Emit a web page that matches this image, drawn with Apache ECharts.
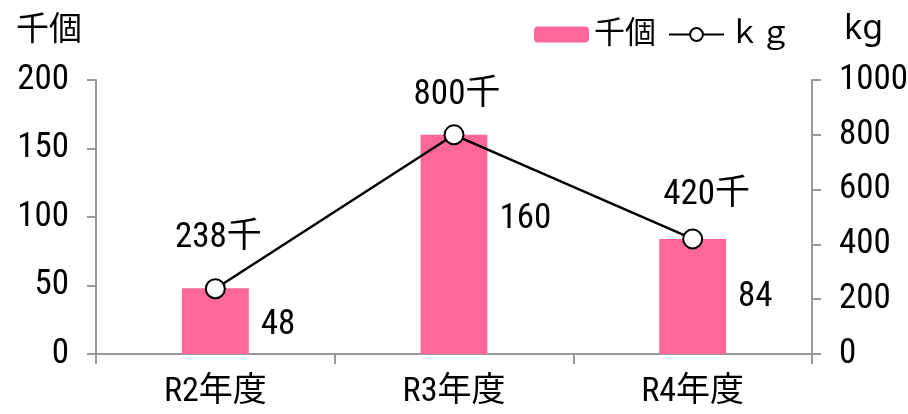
<!DOCTYPE html>
<html>
<head>
<meta charset="utf-8">
<script src="https://cdn.jsdelivr.net/npm/echarts@6/dist/echarts.min.js"></script>
<style>
  html, body { margin: 0; padding: 0; background: #fff; }
  #chart { width: 908px; height: 414px; }
</style>
</head>
<body>
<div id="chart"></div>
<script>
// data
const categories = ['R2年度', 'R3年度', 'R4年度'];
const thousandPieces = [48, 160, 84];   // 千個 (left axis)
const kgValues = [238, 800, 420];       // kg (right axis)
const leftTicks = { min: 0, max: 200, interval: 50 };
const rightTicks = { min: 0, max: 1000, interval: 200 };

const FONT = "'Roboto Condensed', 'Noto Sans CJK JP', sans-serif";
const NAME_FONT = "'Noto Sans', 'Noto Sans CJK JP', sans-serif";
const AXIS_GREY = '#999999';
const NUM_SIZE = 35;

// small label nudges so labels sit where the reference has them
const barLabelOffsets = [[0, 4], [0, -25], [0, 1]];
const lineLabelOffsets = [[3, -7], [3, 4], [14, 0]];

const chart = echarts.init(document.getElementById('chart'), null, { renderer: 'canvas' });

const yAxisCommon = {
  type: 'value',
  splitLine: { show: false },
  axisLine: { show: true, lineStyle: { color: AXIS_GREY, width: 2 } },
  axisTick: { show: true, length: 9, lineStyle: { color: AXIS_GREY, width: 2 } },
  axisLabel: { color: '#000', fontFamily: FONT, fontSize: NUM_SIZE, margin: 27, formatter: v => String(v) },
  nameLocation: 'end',
  nameTextStyle: { color: '#000', fontFamily: NAME_FONT, fontSize: 32 }
};

const option = {
  animation: false,
  textStyle: { fontFamily: FONT },
  grid: { left: 96, right: 96, top: 80, bottom: 60, outerBoundsMode: 'none' },
  legend: {
    top: 14,
    right: 112,
    itemWidth: 55,
    itemHeight: 16,
    itemGap: 12,
    textStyle: { color: '#000', fontFamily: NAME_FONT, fontSize: 31 },
    data: ['千個', 'ｋｇ']
  },
  xAxis: {
    type: 'category',
    data: categories,
    axisLine: { lineStyle: { color: AXIS_GREY, width: 2 } },
    axisTick: { show: true, length: 10, alignWithLabel: false, lineStyle: { color: AXIS_GREY, width: 2 } },
    axisLabel: { color: '#000', fontFamily: FONT, fontSize: 34, margin: 22 }
  },
  yAxis: [
    Object.assign({}, yAxisCommon, {
      name: '千個',
      nameGap: 33,
      nameTextStyle: Object.assign({}, yAxisCommon.nameTextStyle, { fontSize: 33, align: 'right', padding: [0, 14, 0, 0] }),
      min: leftTicks.min, max: leftTicks.max, interval: leftTicks.interval
    }),
    Object.assign({}, yAxisCommon, {
      name: 'kg',
      nameGap: 34,
      nameTextStyle: Object.assign({}, yAxisCommon.nameTextStyle, { fontSize: 34, align: 'left', padding: [0, 0, 0, 32] }),
      min: rightTicks.min, max: rightTicks.max, interval: rightTicks.interval
    })
  ],
  series: [
    {
      name: '千個',
      type: 'bar',
      yAxisIndex: 0,
      barWidth: '28%',
      itemStyle: { color: '#FF6699' },
      label: {
        show: true,
        position: 'right',
        distance: 12,
        color: '#000',
        fontFamily: FONT,
        fontSize: NUM_SIZE
      },
      data: thousandPieces.map((v, i) => ({ value: v, label: { offset: barLabelOffsets[i] } }))
    },
    {
      name: 'ｋｇ',
      type: 'line',
      yAxisIndex: 1,
      symbol: 'circle',
      symbolSize: 19,
      lineStyle: { color: '#000', width: 2.5 },
      itemStyle: { color: '#fff', borderColor: '#000', borderWidth: 2 },
      label: {
        show: true,
        position: 'top',
        distance: 16,
        color: '#000',
        fontFamily: FONT,
        fontSize: NUM_SIZE,
        formatter: '{c}千'
      },
      data: kgValues.map((v, i) => ({ value: v, label: { offset: lineLabelOffsets[i] } }))
    }
  ]
};

chart.setOption(option);
</script>
</body>
</html>
